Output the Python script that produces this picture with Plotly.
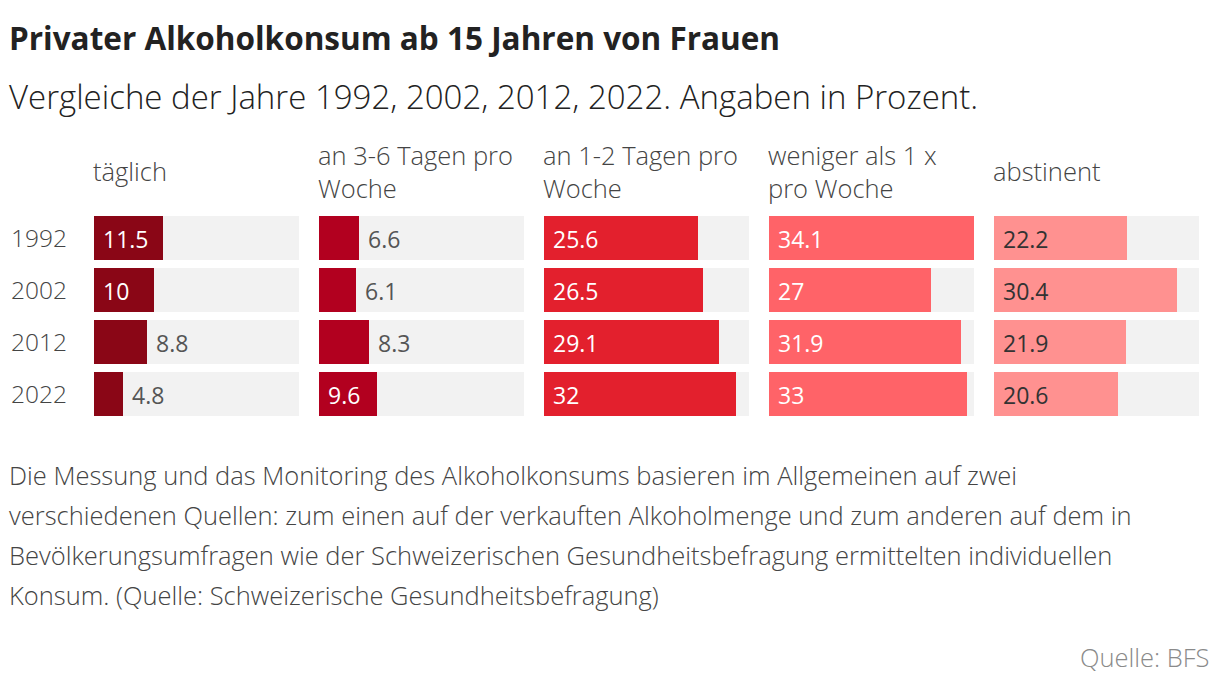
import plotly.graph_objects as go
from plotly.subplots import make_subplots

years = ["1992", "2002", "2012", "2022"]
categories = ["täglich", "an 3-6 Tagen pro\nWoche", "an 1-2 Tagen pro\nWoche", "weniger als 1 x\npro Woche", "abstinent"]
values = {
    "täglich": [11.5, 10, 8.8, 4.8],
    "an 3-6 Tagen pro\nWoche": [6.6, 6.1, 8.3, 9.6],
    "an 1-2 Tagen pro\nWoche": [25.6, 26.5, 29.1, 32],
    "weniger als 1 x\npro Woche": [34.1, 27, 31.9, 33],
    "abstinent": [22.2, 30.4, 21.9, 20.6],
}
colors = ["#8a0616", "#b2001f", "#e3202d", "#ff6368", "#ff9190"]
label_colors = ["#ffffff", "#ffffff", "#ffffff", "#ffffff", "#333333"]

title = "Privater Alkoholkonsum ab 15 Jahren von Frauen"
subtitle = "Vergleiche der Jahre 1992, 2002, 2012, 2022. Angaben in Prozent."
footnote_lines = [
    "Die Messung und das Monitoring des Alkoholkonsums basieren im Allgemeinen auf zwei",
    "verschiedenen Quellen: zum einen auf der verkauften Alkoholmenge und zum anderen auf dem in",
    "Bevölkerungsumfragen wie der Schweizerischen Gesundheitsbefragung ermittelten individuellen",
    "Konsum. (Quelle: Schweizerische Gesundheitsbefragung)",
]
source = "Quelle: BFS"

W, H = 1220, 686
FONT = "Open Sans"
vmax = max(max(v) for v in values.values())

fig = make_subplots(rows=1, cols=5)


def px(x):
    return x / W


def py(y):
    return 1 - y / H


panel_left = 94
panel_w = 205
panel_step = 225

for i, cat in enumerate(categories):
    vals = values[cat]
    fig.add_trace(go.Bar(
        y=years, x=[vmax] * len(years), orientation="h",
        marker=dict(color="#f2f2f2", line=dict(width=0)),
        width=0.846, hoverinfo="skip", showlegend=False,
    ), row=1, col=i + 1)
    fig.add_trace(go.Bar(
        y=years, x=vals, orientation="h",
        marker=dict(color=colors[i], line=dict(width=0)),
        width=0.846, showlegend=False,
    ), row=1, col=i + 1)
    x0 = panel_left + i * panel_step
    xa = "xaxis" if i == 0 else f"xaxis{i+1}"
    ya = "yaxis" if i == 0 else f"yaxis{i+1}"
    fig.layout[xa].update(domain=[px(x0), px(x0 + panel_w)], range=[0, vmax],
                          autorange=False, visible=False, fixedrange=True)
    fig.layout[ya].update(domain=[py(420), py(212)], type="category",
                          range=[len(years) - 0.5, -0.5], autorange=False,
                          visible=False, fixedrange=True)
    xr = "x" if i == 0 else f"x{i+1}"
    yr = "y" if i == 0 else f"y{i+1}"
    for j, v in enumerate(vals):
        inside = v >= 9
        fig.add_annotation(
            x=0 if inside else v, y=j, xref=xr, yref=yr,
            text=f"{v:g}", showarrow=False, xanchor="left", yanchor="middle",
            xshift=7, yshift=-1,
            font=dict(family=FONT, size=23, color=label_colors[i] if inside else "#555555"),
        )
    lines = cat.split("\n")
    n = len(lines)
    for k, line in enumerate(lines):
        yc = 171 + (k - (n - 1) / 2) * 33
        fig.add_annotation(
            x=px(x0 - 3), y=py(yc), xref="paper", yref="paper",
            text=line, showarrow=False, xanchor="left", yanchor="middle",
            font=dict(family=FONT, size=25.5, color="#444444", weight=300),
        )

for j, y in enumerate(years):
    fig.add_annotation(
        x=px(9), y=j, xref="paper", yref="y",
        text=y, showarrow=False, xanchor="left", yanchor="middle", yshift=1,
        font=dict(family=FONT, size=24.5, color="#444444", weight=300),
    )

fig.add_annotation(x=px(7), y=py(37), xref="paper", yref="paper", text=f"<b>{title}</b>",
                   showarrow=False, xanchor="left", yanchor="middle",
                   font=dict(family=FONT, size=31.5, color="#222222"))
fig.add_annotation(x=px(7), y=py(96), xref="paper", yref="paper", text=subtitle,
                   showarrow=False, xanchor="left", yanchor="middle",
                   font=dict(family=FONT, size=33, color="#222222", weight=300))
for k, line in enumerate(footnote_lines):
    fig.add_annotation(x=px(7), y=py(475 + 40 * k), xref="paper", yref="paper", text=line,
                       showarrow=False, xanchor="left", yanchor="middle",
                       font=dict(family=FONT, size=25.5, color="#444444", weight=300))
fig.add_annotation(x=px(1212), y=py(657), xref="paper", yref="paper", text=source,
                   showarrow=False, xanchor="right", yanchor="middle",
                   font=dict(family=FONT, size=25.5, color="#8a8a8a", weight=300))

fig.update_layout(
    width=W, height=H, margin=dict(l=0, r=0, t=0, b=0),
    barmode="overlay", plot_bgcolor="white", paper_bgcolor="white",
    showlegend=False, bargap=0,
)
fig.write_html("out.html", config={"displayModeBar": False},
               post_script="document.body.style.margin='0';")
